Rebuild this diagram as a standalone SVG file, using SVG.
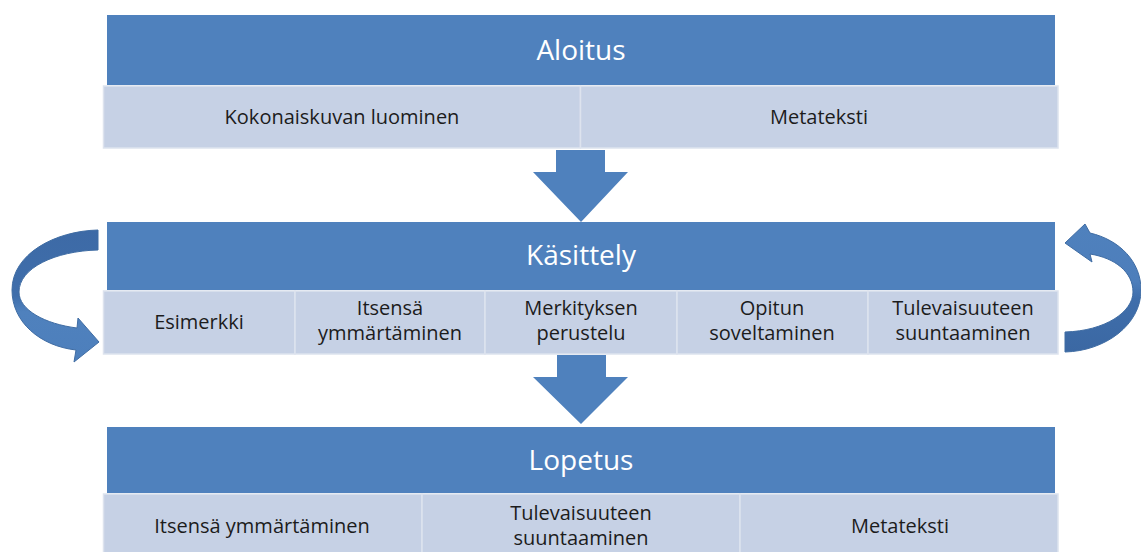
<svg xmlns="http://www.w3.org/2000/svg" width="1141" height="552" viewBox="0 0 1141 552">
  <defs>
    <style>
      .hdr { fill: #4f81bd; }
      .cell { fill: #c6d1e5; stroke: #dde3ee; stroke-width: 1.5; }
      .htxt { font-family: "Open Sans", "Liberation Sans", sans-serif; font-size: 28px; fill: #ffffff; text-anchor: middle; }
      .ctxt { font-family: "Open Sans", "Liberation Sans", sans-serif; font-size: 20px; fill: #1c1c1c; text-anchor: middle; }
      .down { fill: #4f81bd; }
      .curve { stroke: #3f6ca3; stroke-width: 1; }
    </style>
    <linearGradient id="gl" x1="0" y1="0" x2="0" y2="1">
      <stop offset="0" stop-color="#3d6aa6"/>
      <stop offset="0.5" stop-color="#3f6eab"/>
      <stop offset="0.62" stop-color="#4f81bd"/>
      <stop offset="1" stop-color="#4d7fbc"/>
    </linearGradient>
    <linearGradient id="gr" x1="0" y1="0" x2="0" y2="1">
      <stop offset="0" stop-color="#4f81bd"/>
      <stop offset="0.45" stop-color="#4d7ebb"/>
      <stop offset="0.58" stop-color="#3f6eab"/>
      <stop offset="1" stop-color="#3b68a3"/>
    </linearGradient>
  </defs>
  <rect width="1141" height="552" fill="#ffffff"/>

  <g id="aloitus">
    <rect class="hdr" x="107" y="15" width="948" height="70"/>
    <text class="htxt" x="581" y="60">Aloitus</text>
    <rect class="cell" x="103.5" y="86" width="477" height="62"/>
    <rect class="cell" x="580.5" y="86" width="477.5" height="62"/>
    <text class="ctxt" x="342" y="124">Kokonaiskuvan luominen</text>
    <text class="ctxt" x="819" y="124">Metateksti</text>
  </g>

  <g id="kasittely">
    <rect class="hdr" x="107" y="222" width="948" height="68"/>
    <text class="htxt" x="581" y="265">Käsittely</text>
    <rect class="cell" x="103.5" y="291" width="191.5" height="63"/>
    <rect class="cell" x="295" y="291" width="190" height="63"/>
    <rect class="cell" x="485" y="291" width="192" height="63"/>
    <rect class="cell" x="677" y="291" width="191" height="63"/>
    <rect class="cell" x="868" y="291" width="190" height="63"/>
    <text class="ctxt" x="199" y="329">Esimerkki</text>
    <text class="ctxt" x="390" y="315">Itsensä</text>
    <text class="ctxt" x="390" y="340">ymmärtäminen</text>
    <text class="ctxt" x="581" y="315">Merkityksen</text>
    <text class="ctxt" x="581" y="340">perustelu</text>
    <text class="ctxt" x="772" y="315">Opitun</text>
    <text class="ctxt" x="772" y="340">soveltaminen</text>
    <text class="ctxt" x="963" y="315">Tulevaisuuteen</text>
    <text class="ctxt" x="963" y="340">suuntaaminen</text>
  </g>

  <g id="lopetus">
    <rect class="hdr" x="107" y="427" width="948" height="66"/>
    <text class="htxt" x="581" y="470">Lopetus</text>
    <rect class="cell" x="103.5" y="494" width="318.5" height="62"/>
    <rect class="cell" x="422" y="494" width="318" height="62"/>
    <rect class="cell" x="740" y="494" width="318" height="62"/>
    <text class="ctxt" x="262" y="533">Itsensä ymmärtäminen</text>
    <text class="ctxt" x="581" y="520">Tulevaisuuteen</text>
    <text class="ctxt" x="581" y="545">suuntaaminen</text>
    <text class="ctxt" x="900" y="533">Metateksti</text>
  </g>

  <g id="connectors">
    <polygon class="down" points="556,150 605,150 605,172 628,172 581,222 533,172 556,172"/>
    <polygon class="down" points="557,355 606,355 606,377 628,377 581,424 533,377 557,377"/>
    <path class="curve" fill="url(#gl)" d="M98,230 C55,231 12,254 12,290 C12,322 40,346 76,350 L74,362 L99,342 L78,318 L77,328 C45,324 19,310 19,292 C19,268 55,251 98,250 Z"/>
    <path class="curve" fill="url(#gr)" d="M1065,332 C1105,331 1133,312 1133,292 C1133,272 1115,258 1090,254 L1092,262 L1065,243 L1085,224 L1090,233 C1120,240 1141,262 1141,290 C1141,325 1105,351 1065,352 Z"/>
  </g>
</svg>
